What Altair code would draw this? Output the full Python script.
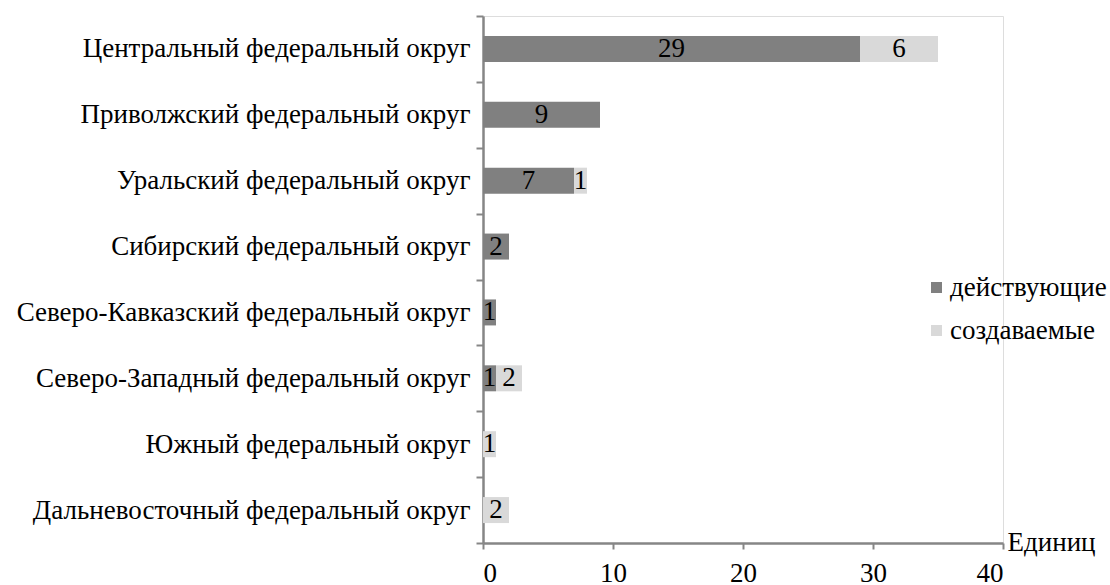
import altair as alt
import pandas as pd

FONT = "Liberation Serif"
FS = 27

districts = [
    "Центральный федеральный округ",
    "Приволжский федеральный округ",
    "Уральский федеральный округ",
    "Сибирский федеральный округ",
    "Северо-Кавказский федеральный округ",
    "Северо-Западный федеральный округ",
    "Южный федеральный округ",
    "Дальневосточный федеральный округ",
]
active = [29, 9, 7, 2, 1, 1, 0, 0]
planned = [6, 0, 1, 0, 0, 2, 1, 2]
series = ["действующие", "создаваемые"]
colors = ["#808080", "#d9d9d9"]
x_ticks = [0, 10, 20, 30, 40]
x_domain = [0, 40]
axis_title = "Единиц"

rows = []
for d, a, p in zip(districts, active, planned):
    rows.append(dict(district=d, series=series[0], value=a, start=0, end=a, ord=0))
    rows.append(dict(district=d, series=series[1], value=p, start=a, end=a + p, ord=1))
df = pd.DataFrame(rows)
df["mid"] = (df["start"] + df["end"]) / 2
df["label"] = df["value"].astype(str)
df = df[df["value"] > 0]

AX = "#868686"

x_axis = alt.Axis(
    values=x_ticks, grid=False, title=axis_title,
    titleX=524, titleY=7, titleAlign="left", titleBaseline="alphabetic",
    titleFont=FONT, titleFontSize=FS, titleFontWeight="normal", titleColor="black",
    labelFont=FONT, labelFontSize=FS, labelColor="black", labelPadding=11,
    domainColor=AX, domainWidth=2.5, tickColor=AX, tickWidth=2, tickSize=6,
)
y_axis = alt.Axis(
    title=None, tickBand="extent", labelFont=FONT, labelFontSize=FS,
    labelColor="black", labelLimit=0, labelPadding=6,
    domainColor=AX, domainWidth=2.5, tickColor=AX, tickWidth=2, tickSize=7,
)

y_enc = alt.Y("district:N", sort=districts,
              scale=alt.Scale(domain=districts, paddingInner=0, paddingOuter=0),
              axis=y_axis)

bars = alt.Chart(df).mark_bar(size=26).encode(
    x=alt.X("start:Q", scale=alt.Scale(domain=x_domain, nice=False), axis=x_axis),
    x2="end:Q",
    y=y_enc,
    color=alt.Color(
        "series:N",
        scale=alt.Scale(domain=series, range=colors),
        legend=alt.Legend(
            title=None, orient="none", legendX=440, legendY=258,
            symbolType="square", symbolSize=121, symbolStrokeWidth=0,
            labelFont=FONT, labelFontSize=FS, labelColor="black",
            labelOffset=0, rowPadding=15, labelLimit=300,
        ),
    ),
    order=alt.Order("ord:Q"),
)

text = alt.Chart(df).mark_text(font=FONT, fontSize=FS, color="black", baseline="middle").encode(
    x=alt.X("mid:Q", scale=alt.Scale(domain=x_domain, nice=False), axis=x_axis),
    y=y_enc,
    text="label:N",
)

chart = alt.layer(bars, text).properties(
    width=520, height=527,
    autosize=alt.AutoSizeParams(type="none"),
    padding={"left": 483, "top": 16, "right": 107, "bottom": 42},
).configure_view(stroke=None).configure(background="white")

chart.save("out.html", embed_options={"renderer": "svg", "actions": False})
